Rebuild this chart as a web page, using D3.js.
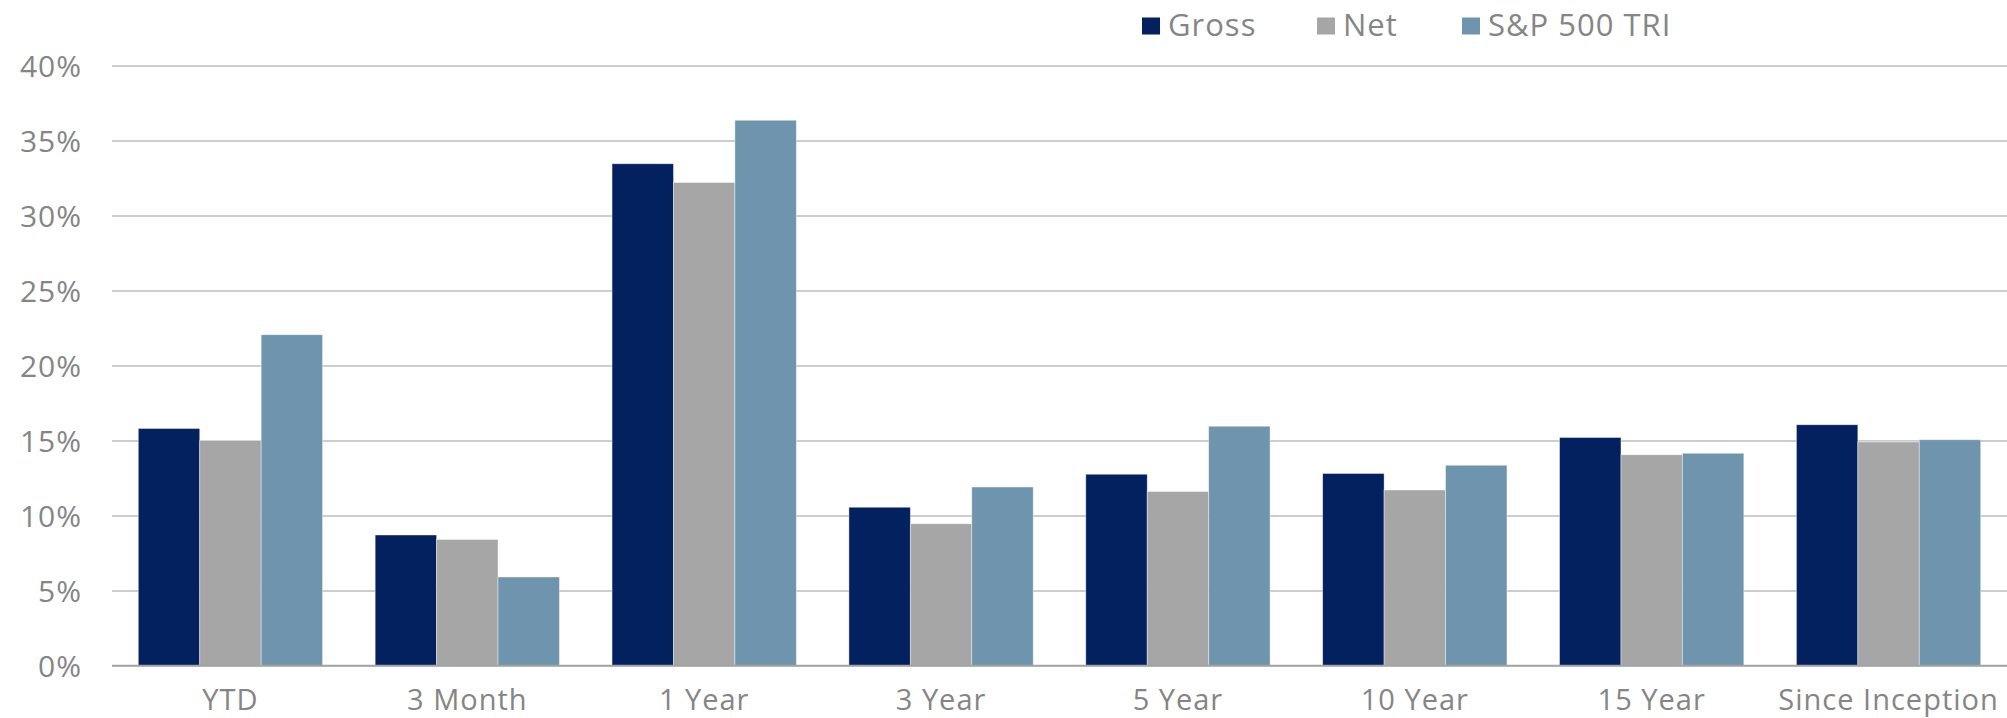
<!DOCTYPE html>
<html>
<head>
<meta charset="utf-8">
<script src="https://cdn.jsdelivr.net/npm/d3@7.9.0/dist/d3.min.js"></script>
<style>
  html, body { margin: 0; padding: 0; background: #fff; }
  svg { display: block; }
  text { font-family: 'Open Sans', 'Noto Sans', sans-serif; fill: #858585; letter-spacing: 1px; }
</style>
</head>
<body>
<svg id="chart" width="2007" height="718"></svg>
<script>
const categories = ['YTD', '3 Month', '1 Year', '3 Year', '5 Year', '10 Year', '15 Year', 'Since Inception'];
const seriesNames = ['Gross', 'Net', 'S&P 500 TRI'];
const gross = [15.8, 8.7, 33.45, 10.55, 12.75, 12.8, 15.2, 16.05];
const net = [15.0, 8.4, 32.2, 9.45, 11.6, 11.7, 14.05, 14.9];
const sp500 = [22.05, 5.9, 36.35, 11.9, 15.95, 13.35, 14.15, 15.05];
const colors = ['#03215e', '#a6a6a6', '#6f95ae'];
const yTicks = [0, 5, 10, 15, 20, 25, 30, 35, 40];

const seriesValues = [gross, net, sp500];

const width = 2007;
const height = 718;
const margin = { top: 65.5, right: 0, bottom: 52.5, left: 112 };

const svg = d3.select('#chart');

const x0 = d3.scaleBand()
  .domain(categories)
  .range([margin.left, width - margin.right])
  .paddingInner(0.222)
  .paddingOuter(0.111);

const x1 = d3.scaleBand()
  .domain(seriesNames)
  .range([0, x0.bandwidth()]);

const y = d3.scaleLinear()
  .domain([0, 40])
  .range([height - margin.bottom, margin.top]);

const color = d3.scaleOrdinal(seriesNames, colors);

// gridlines + y labels
const yAxis = d3.axisLeft(y)
  .tickValues(yTicks)
  .tickSize(-(width - margin.left - margin.right))
  .tickPadding(30)
  .tickFormat((d) => `${d}%`);

svg.append('g')
  .attr('transform', `translate(${margin.left},0)`)
  .call(yAxis)
  .call((g) => g.select('.domain').remove())
  .call((g) => g.selectAll('line')
    .attr('stroke', (d) => (d === 0 ? '#a3a3a3' : '#bcbcbc'))
    .attr('stroke-width', 1.3))
  .call((g) => g.selectAll('text')
    .attr('font-size', 30)
    .attr('dy', '0.35em'));

// bars
const rows = categories.map((c, i) => ({
  category: c,
  values: seriesNames.map((s, j) => ({ key: s, value: seriesValues[j][i] })),
}));

svg.append('g')
  .selectAll('g')
  .data(rows)
  .join('g')
  .attr('transform', (d) => `translate(${x0(d.category)},0)`)
  .selectAll('rect')
  .data((d) => d.values)
  .join('rect')
  .attr('x', (d) => x1(d.key))
  .attr('y', (d) => y(d.value))
  .attr('width', x1.bandwidth())
  .attr('height', (d) => y(0) - y(d.value))
  .attr('fill', (d) => color(d.key))
  .attr('stroke', '#ffffff')
  .attr('stroke-opacity', 0.5)
  .attr('stroke-width', 0.8);

// zero line above bars
svg.append('line')
  .attr('x1', margin.left)
  .attr('x2', width - margin.right)
  .attr('y1', y(0))
  .attr('y2', y(0))
  .attr('stroke', '#a3a3a3')
  .attr('stroke-width', 1.5);

// x labels
const xAxis = d3.axisBottom(x0).tickSize(0).tickPadding(0);
svg.append('g')
  .attr('transform', `translate(0,${y(0)})`)
  .call(xAxis)
  .call((g) => g.select('.domain').remove())
  .call((g) => g.selectAll('text')
    .attr('font-size', 29)
    .attr('y', 44)
    .attr('dy', 0));

// legend
const legendX = [1142, 1317, 1462];
const legend = svg.append('g').attr('class', 'legend');
seriesNames.forEach((name, i) => {
  const item = legend.append('g').attr('transform', `translate(${legendX[i]},0)`);
  item.append('rect')
    .attr('x', 0)
    .attr('y', 17.5)
    .attr('width', 18)
    .attr('height', 17)
    .attr('fill', color(name));
  item.append('text')
    .attr('x', 26)
    .attr('y', 36)
    .attr('font-size', 31)
    .text(name);
});
</script>
</body>
</html>
